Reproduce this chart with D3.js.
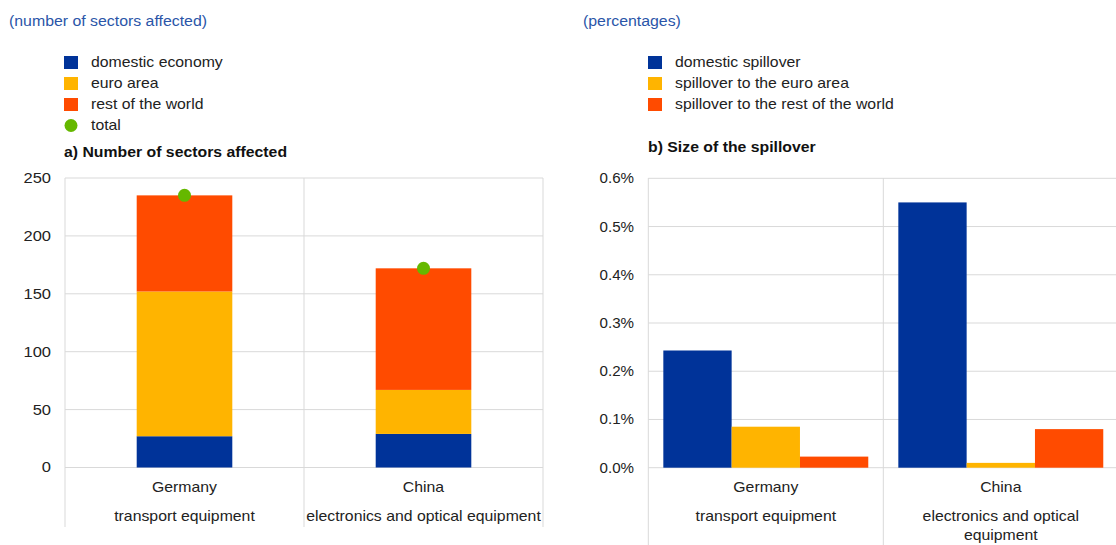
<!DOCTYPE html>
<html><head><meta charset="utf-8">
<script src="https://cdn.jsdelivr.net/npm/d3@7"></script>
<style>body{margin:0;background:#fff}svg{display:block;font-family:"Liberation Sans",Arial,sans-serif}</style>
</head><body>
<svg id="c" width="1116" height="545"></svg>
<script>
const categories = ["Germany", "China"];
const sectorLines = [["transport equipment"], ["electronics and optical equipment"]];
const sectorLinesB = [["transport equipment"], ["electronics and optical", "equipment"]];
const seriesA = ["domestic economy", "euro area", "rest of the world"];
const domesticA = [27, 29];
const euroA = [125, 38];
const restA = [83, 105];
const totalA = [235, 172];
const ticksA = [0, 50, 100, 150, 200, 250];

const seriesB = ["domestic spillover", "spillover to the euro area", "spillover to the rest of the world"];
const domesticB = [0.243, 0.55];
const euroB = [0.085, 0.01];
const restB = [0.023, 0.08];
const ticksB = [0, 0.1, 0.2, 0.3, 0.4, 0.5, 0.6];

const colors = ["#003399", "#FFB400", "#FF4B00"];
const green = "#65B800";
const grid = "#d9d9d9";
const titleColor = "#2a55a8";
const SX = 1.13;

const svg = d3.select("#c");

function txt(x, y, s, opts = {}) {
  const t = svg.append("text")
    .attr("transform", `translate(${x},${y}) scale(${opts.sx || SX},1)`)
    .attr("font-size", opts.size || 14)
    .attr("fill", opts.fill || "#222")
    .attr("text-anchor", opts.anchor || "start")
    .text(s);
  if (opts.bold) t.attr("font-weight", "bold");
  return t;
}

// ---------- Panel A ----------
const xA = d3.scaleBand().domain(categories).range([65, 543]).paddingInner(0).paddingOuter(0);
const yA = d3.scaleLinear().domain([0, 250]).range([467.5, 178]);

txt(9, 26, "(number of sectors affected)", { size: 14.3, sx: 1.11, fill: titleColor });

seriesA.forEach((s, i) => {
  svg.append("rect").attr("x", 64).attr("y", 56 + i * 21).attr("width", 14).attr("height", 13).attr("fill", colors[i]);
  txt(91, 67 + i * 21, s);
});
svg.append("circle").attr("cx", 71).attr("cy", 125.5).attr("r", 6.5).attr("fill", green);
txt(91, 130, "total");
txt(64, 157, "a) Number of sectors affected", { bold: true, fill: "#111" });

const gA = svg.append("g");
gA.selectAll("line.h").data(ticksA).join("line")
  .attr("x1", 65).attr("x2", 543).attr("y1", d => yA(d)).attr("y2", d => yA(d))
  .attr("stroke", grid).attr("stroke-width", 1);
const vA = [65, xA("China"), 543];
gA.selectAll("line.v").data(vA).join("line")
  .attr("x1", d => d).attr("x2", d => d).attr("y1", 178).attr("y2", 527)
  .attr("stroke", grid).attr("stroke-width", 1);

const axA = d3.axisLeft(yA).tickValues(ticksA).tickSize(0).tickPadding(0);
const axGA = svg.append("g").attr("transform", "translate(51,0)").call(axA);
axGA.select(".domain").remove();
axGA.selectAll(".tick text").attr("font-size", 14).attr("fill", "#222")
  .attr("font-family", "Liberation Sans, Arial, sans-serif")
  .attr("transform", "scale(1.18,1)").attr("x", 0);

const stackDataA = categories.map((c, i) => ({ cat: c, d: domesticA[i], e: euroA[i], r: restA[i] }));
const stackA = d3.stack().keys(["d", "e", "r"])(stackDataA);
const bwA = xA.bandwidth() * 0.4;
stackA.forEach((layer, li) => {
  gA.selectAll(null).data(layer).join("rect")
    .attr("x", d => xA(d.data.cat) + (xA.bandwidth() - bwA) / 2)
    .attr("width", bwA)
    .attr("y", d => yA(d[1]))
    .attr("height", d => yA(d[0]) - yA(d[1]))
    .attr("fill", colors[li]);
});
gA.selectAll("circle.t").data(categories).join("circle")
  .attr("cx", c => xA(c) + xA.bandwidth() / 2)
  .attr("cy", (c, i) => yA(totalA[i]))
  .attr("r", 6.5).attr("fill", green);

categories.forEach((c, i) => {
  const cx = xA(c) + xA.bandwidth() / 2;
  txt(cx, 492, c, { anchor: "middle" });
  sectorLines[i].forEach((l, j) => txt(cx, 521 + j * 19, l, { anchor: "middle" }));
});

// ---------- Panel B ----------
const xB = d3.scaleBand().domain(categories).range([648.3, 1118.3]);
const yB = d3.scaleLinear().domain([0, 0.6]).range([467.7, 178.3]);
const xSub = d3.scaleBand().domain(seriesB).range([0, xB.bandwidth()]).paddingOuter(0.22).paddingInner(0);

txt(583, 26, "(percentages)", { size: 14.3, sx: 1.11, fill: titleColor });
seriesB.forEach((s, i) => {
  svg.append("rect").attr("x", 648).attr("y", 56 + i * 21).attr("width", 14).attr("height", 13).attr("fill", colors[i]);
  txt(675, 67 + i * 21, s);
});
txt(648, 152, "b) Size of the spillover", { bold: true, fill: "#111" });

const gB = svg.append("g");
gB.selectAll("line.h").data(ticksB).join("line")
  .attr("x1", 648.3).attr("x2", 1118).attr("y1", d => yB(d)).attr("y2", d => yB(d))
  .attr("stroke", grid).attr("stroke-width", 1);
gB.selectAll("line.v").data([648.3, xB("China")]).join("line")
  .attr("x1", d => d).attr("x2", d => d).attr("y1", 178).attr("y2", 545)
  .attr("stroke", grid).attr("stroke-width", 1);

const axB = d3.axisLeft(yB).tickValues(ticksB).tickSize(0).tickPadding(0).tickFormat(d => d.toFixed(1) + "%");
const axGB = svg.append("g").attr("transform", "translate(634,0)").call(axB);
axGB.select(".domain").remove();
axGB.selectAll(".tick text").attr("font-size", 14).attr("fill", "#222")
  .attr("font-family", "Liberation Sans, Arial, sans-serif")
  .attr("transform", "scale(1.08,1)").attr("x", 0);

const valsB = [domesticB, euroB, restB];
categories.forEach((c, i) => {
  seriesB.forEach((s, k) => {
    const v = valsB[k][i];
    gB.append("rect")
      .attr("x", xB(c) + xSub(s))
      .attr("width", xSub.bandwidth())
      .attr("y", yB(v))
      .attr("height", yB(0) - yB(v))
      .attr("fill", colors[k]);
  });
  const cx = xB(c) + xB.bandwidth() / 2;
  txt(cx, 492, c, { anchor: "middle" });
  sectorLinesB[i].forEach((l, j) => txt(cx, 521 + j * 19, l, { anchor: "middle" }));
});
</script>
</body></html>
